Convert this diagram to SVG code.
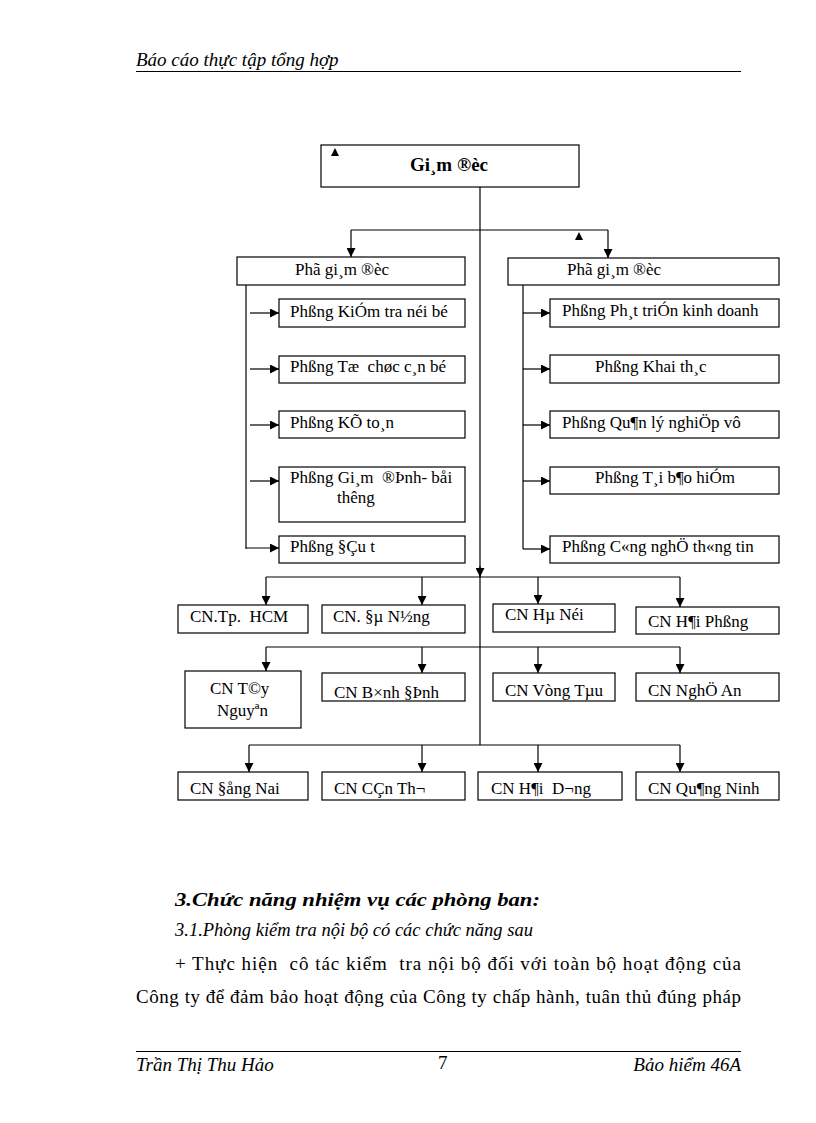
<svg xmlns="http://www.w3.org/2000/svg" width="816" height="1123" viewBox="0 0 816 1123">
<defs>
<marker id="arr" markerUnits="userSpaceOnUse" markerWidth="9" markerHeight="9" refX="9" refY="4.5" orient="auto">
<path d="M0,0 L9,4.5 L0,9 z" fill="#000"/>
</marker>
<style>
.box{fill:#fff;stroke:#000;stroke-width:1.2}
.ln{fill:none;stroke:#000;stroke-width:1.2}
.ar{fill:none;stroke:#000;stroke-width:1.2;marker-end:url(#arr)}
.t{font-family:"Liberation Serif","Times New Roman",serif;font-size:17px;fill:#000;white-space:pre}
.title{font-family:"Liberation Serif","Times New Roman",serif;font-size:19px;font-weight:bold;fill:#000}
.hd{font-family:"Liberation Serif","Times New Roman",serif;font-size:19px;font-style:italic;fill:#000}
.body{font-family:"Liberation Serif","Times New Roman",serif;font-size:19px;fill:#000;white-space:pre}
.h3{font-family:"Liberation Serif","Times New Roman",serif;font-size:19px;font-weight:bold;font-style:italic;fill:#000}
.h31{font-family:"Liberation Serif","Times New Roman",serif;font-size:18.5px;font-style:italic;fill:#000}
</style>
</defs>
<rect width="816" height="1123" fill="#fff"/>

<g id="header">
<text class="hd" x="136" y="66">Báo cáo thực tập tổng hợp</text>
<line x1="136" y1="71.5" x2="741" y2="71.5" stroke="#000" stroke-width="1.2"/>
</g>

<g id="connectors">
<line class="ln" x1="480" y1="187" x2="480" y2="745"/>
<path class="ar" d="M480,566 V577"/>
<path class="ln" d="M351,230 H608"/>
<path class="ar" d="M351,230 V257"/>
<path class="ar" d="M608,230 V258"/>
<path d="M575,240 L579,232 L583,240 z" fill="#000"/>
<line class="ln" x1="246" y1="285" x2="246" y2="549"/>
<path class="ar" d="M250,313 H279"/>
<path class="ar" d="M250,369 H279"/>
<path class="ar" d="M250,425 H279"/>
<path class="ar" d="M250,481 H279"/>
<path class="ar" d="M246,548 H279"/>
<line class="ln" x1="523" y1="285" x2="523" y2="549"/>
<path class="ar" d="M523,313 H550"/>
<path class="ar" d="M523,369 H550"/>
<path class="ar" d="M523,425 H550"/>
<path class="ar" d="M523,481 H550"/>
<path class="ar" d="M523,549 H550"/>
<path class="ln" d="M266,577 H680"/>
<path class="ar" d="M266,577 V605"/>
<path class="ar" d="M422,577 V605"/>
<path class="ar" d="M538,577 V604"/>
<path class="ar" d="M680,577 V607"/>
<path class="ln" d="M266,647 H680"/>
<path class="ar" d="M266,647 V671"/>
<path class="ar" d="M422,647 V673"/>
<path class="ar" d="M538,647 V673"/>
<path class="ar" d="M680,647 V673"/>
<path class="ln" d="M249,745 H680"/>
<path class="ar" d="M249,745 V772"/>
<path class="ar" d="M422,745 V772"/>
<path class="ar" d="M538,745 V772"/>
<path class="ar" d="M680,745 V772"/>
</g>

<g id="giam-doc">
<rect class="box" x="321" y="145" width="258" height="42"/>
<path d="M331,156 L335,148 L339,156 z" fill="#000"/>
<text class="title" x="449" y="171" text-anchor="middle">Gi¸m ®èc</text>
</g>

<g id="pho-gd-left">
<rect class="box" x="237" y="257" width="228" height="28"/>
<text class="t" x="295" y="275">Phã gi¸m ®èc</text>
</g>
<g id="pho-gd-right">
<rect class="box" x="508" y="258" width="271" height="27"/>
<text class="t" x="567" y="275">Phã gi¸m ®èc</text>
</g>

<g id="p-kiem-tra">
<rect class="box" x="279" y="299" width="186" height="28"/>
<text class="t" x="290" y="317">Phßng KiÓm tra néi bé</text>
</g>
<g id="p-to-chuc">
<rect class="box" x="279" y="356" width="186" height="27"/>
<text class="t" x="290" y="372">Phßng Tæ  chøc c¸n bé</text>
</g>
<g id="p-ke-toan">
<rect class="box" x="279" y="411" width="186" height="27"/>
<text class="t" x="290" y="428">Phßng KÕ to¸n</text>
</g>
<g id="p-giam-dinh">
<rect class="box" x="279" y="467" width="186" height="55"/>
<text class="t" x="290" y="483">Phßng Gi¸m  ®Þnh- båi</text>
<text class="t" x="337" y="503">thêng</text>
</g>
<g id="p-dau-tu">
<rect class="box" x="279" y="536" width="186" height="27"/>
<text class="t" x="290" y="552">Phßng §Çu t</text>
</g>

<g id="p-phat-trien">
<rect class="box" x="550" y="299" width="229" height="28"/>
<text class="t" x="562" y="316">Phßng Ph¸t triÓn kinh doanh</text>
</g>
<g id="p-khai-thac">
<rect class="box" x="550" y="355" width="229" height="28"/>
<text class="t" x="595" y="372">Phßng Khai th¸c</text>
</g>
<g id="p-quan-ly">
<rect class="box" x="550" y="411" width="229" height="27"/>
<text class="t" x="562" y="428">Phßng Qu¶n lý nghiÖp vô</text>
</g>
<g id="p-tai-bao-hiem">
<rect class="box" x="550" y="467" width="229" height="27"/>
<text class="t" x="595" y="483">Phßng T¸i b¶o hiÓm</text>
</g>
<g id="p-cntt">
<rect class="box" x="550" y="536" width="229" height="27"/>
<text class="t" x="562" y="552">Phßng C«ng nghÖ th«ng tin</text>
</g>

<g id="cn-hcm">
<rect class="box" x="178" y="605" width="130" height="28"/>
<text class="t" x="190" y="622">CN.Tp.  HCM</text>
</g>
<g id="cn-da-nang">
<rect class="box" x="322" y="605" width="143" height="28"/>
<text class="t" x="333" y="622">CN. §µ N½ng</text>
</g>
<g id="cn-ha-noi">
<rect class="box" x="493" y="604" width="122" height="28"/>
<text class="t" x="505" y="620">CN Hµ Néi</text>
</g>
<g id="cn-hai-phong">
<rect class="box" x="636" y="607" width="143" height="27"/>
<text class="t" x="648" y="627">CN H¶i Phßng</text>
</g>

<g id="cn-tay-nguyen">
<rect class="box" x="185" y="671" width="116" height="57"/>
<text class="t" x="210" y="694">CN T©y</text>
<text class="t" x="217" y="716">Nguyªn</text>
</g>
<g id="cn-binh-dinh">
<rect class="box" x="322" y="673" width="143" height="28"/>
<text class="t" x="334" y="698">CN B×nh §Þnh</text>
</g>
<g id="cn-vung-tau">
<rect class="box" x="493" y="673" width="122" height="28"/>
<text class="t" x="505" y="696">CN Vòng Tµu</text>
</g>
<g id="cn-nghe-an">
<rect class="box" x="636" y="673" width="143" height="28"/>
<text class="t" x="648" y="696">CN NghÖ An</text>
</g>

<g id="cn-dong-nai">
<rect class="box" x="178" y="772" width="130" height="28"/>
<text class="t" x="190" y="794">CN §ång Nai</text>
</g>
<g id="cn-can-tho">
<rect class="box" x="322" y="772" width="143" height="28"/>
<text class="t" x="334" y="794">CN CÇn Th¬</text>
</g>
<g id="cn-hai-duong">
<rect class="box" x="478" y="772" width="144" height="28"/>
<text class="t" x="491" y="794">CN H¶i  D¬ng</text>
</g>
<g id="cn-quang-ninh">
<rect class="box" x="636" y="772" width="143" height="28"/>
<text class="t" x="648" y="794">CN Qu¶ng Ninh</text>
</g>

<g id="body-text">
<text class="h3" x="175" y="906" textLength="365" lengthAdjust="spacingAndGlyphs">3.Chức năng nhiệm vụ các phòng ban:</text>
<text class="h31" x="175" y="936">3.1.Phòng kiểm tra nội bộ có các chức năng sau</text>
<text class="body" x="175" y="970" textLength="566" lengthAdjust="spacing">+ Thực hiện  cô tác kiểm  tra nội bộ đối với toàn bộ hoạt động của</text>
<text class="body" x="136" y="1003" textLength="605" lengthAdjust="spacing">Công ty để đảm bảo hoạt động của Công ty chấp hành, tuân thủ đúng pháp</text>
</g>

<g id="footer">
<line x1="136" y1="1051.5" x2="741" y2="1051.5" stroke="#000" stroke-width="1.2"/>
<text class="hd" x="136" y="1071">Trần Thị Thu Hảo</text>
<text class="body" x="438" y="1069">7</text>
<text class="hd" x="741" y="1071" text-anchor="end">Bảo hiểm 46A</text>
</g>
</svg>
